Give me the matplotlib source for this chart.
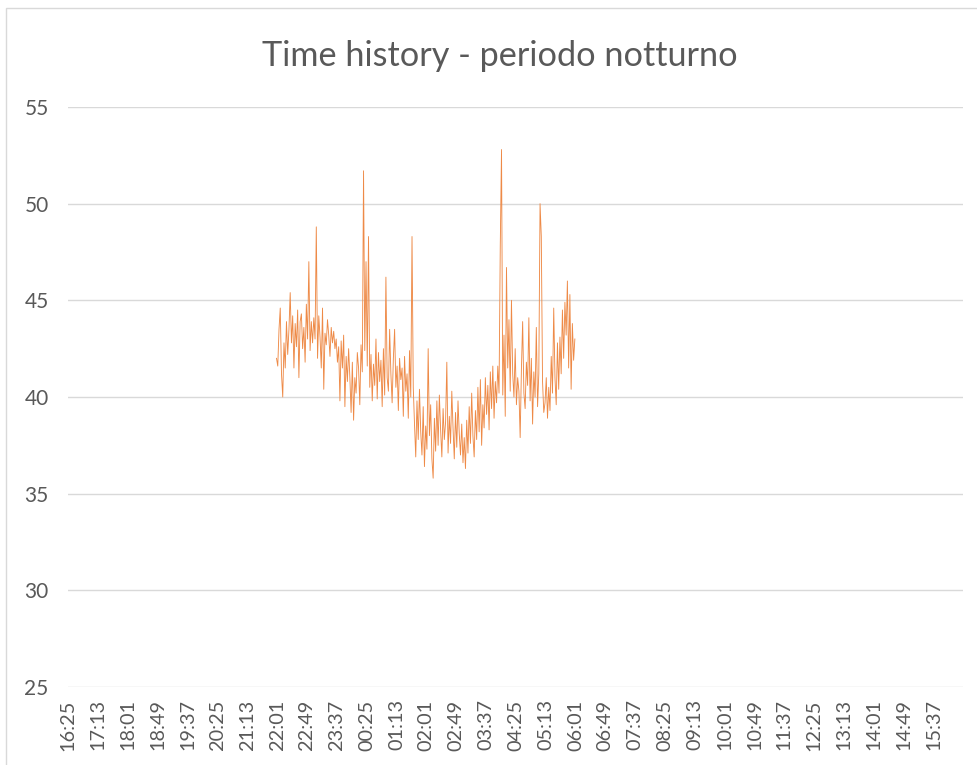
import matplotlib
matplotlib.use("Agg")
import matplotlib.pyplot as plt
from matplotlib.patches import Rectangle

plt.rcParams['font.family'] = ['Lato', 'DejaVu Sans']

title = "Time history - periodo notturno"

# category labels on the time axis (every 48 minutes starting 16:25)
tick_labels = ["16:25", "17:13", "18:01", "18:49", "19:37", "20:25", "21:13", "22:01",
               "22:49", "23:37", "00:25", "01:13", "02:01", "02:49", "03:37", "04:25",
               "05:13", "06:01", "06:49", "07:37", "08:25", "09:13", "10:01", "10:49",
               "11:37", "12:25", "13:13", "14:01", "14:49", "15:37"]
axis_start = "16:25"
n_categories = 1440          # one category per minute over 24 h
tick_every = 48

series_start = "22:00"
series_step_min = 2
levels = [
    42.0, 41.6, 43.5, 44.6, 41.2, 40.0, 42.8, 41.5, 43.9, 42.2,
    43.5, 45.4, 42.8, 44.2, 41.5, 43.8, 42.6, 44.5, 41.0, 43.9,
    44.3, 42.5, 43.6, 41.8, 44.8, 43.0, 47.0, 42.4, 43.9, 42.8,
    44.1, 43.0, 48.8, 42.0, 44.2, 43.1, 41.5, 44.6, 40.4, 43.3,
    42.7, 44.0, 43.2, 42.1, 43.6, 42.8, 43.4, 42.5, 43.0, 41.8,
    42.6, 39.8, 42.9, 41.5, 43.2, 39.5, 42.1, 40.8, 42.5, 41.0,
    39.2, 41.8, 38.8, 41.0, 40.2, 42.3, 41.5, 39.6, 42.7, 41.3,
    51.7, 42.4, 47.0, 41.6, 48.3, 40.5, 42.2, 39.8, 41.7, 40.6,
    43.0, 39.9, 42.3, 40.8, 41.9, 39.5, 42.5, 40.1, 46.2, 41.0,
    40.3, 43.5, 41.2, 39.7, 42.0, 43.5, 40.5, 41.6, 39.3, 42.0,
    40.9, 41.5, 39.0, 42.1, 40.3, 41.2, 38.9, 42.4, 40.0, 48.3,
    40.5, 38.6, 36.9, 39.8, 37.8, 40.4, 38.2, 37.0, 39.5, 36.4,
    38.5, 37.3, 42.5, 38.0, 39.6, 36.8, 35.8, 38.9, 37.2, 39.8,
    37.5, 40.1, 38.3, 36.9, 39.4, 37.8, 38.7, 41.8, 37.1, 39.0,
    37.6, 40.3, 38.4, 36.8, 39.2, 37.4, 39.8, 38.1, 37.0, 38.6,
    36.6, 37.9, 36.3, 38.8, 37.1, 39.5, 37.6, 40.2, 38.0, 36.9,
    39.3, 37.8, 40.5, 38.2, 40.9, 37.5, 39.6, 38.4, 41.0, 39.1,
    40.6, 38.3, 41.3, 39.4, 41.6, 38.9, 40.8, 39.7, 41.6, 40.2,
    47.8, 52.8, 40.1, 43.2, 39.0, 46.7, 41.5, 44.0, 40.3, 45.0,
    41.2, 40.0, 42.5, 39.6, 41.0, 40.3, 37.9, 41.4, 43.9, 40.2,
    39.4, 41.8, 40.6, 44.1, 39.8, 42.0, 38.6, 41.3, 40.0, 43.6,
    39.5, 41.2, 50.0, 48.3, 40.8, 39.2, 39.7, 41.0, 38.9, 40.5,
    39.3, 42.1, 40.2, 44.6, 41.0, 39.6, 42.8, 40.4, 43.1, 41.2,
    44.5, 42.0, 44.9, 43.2, 46.0, 41.5, 45.3, 40.4, 43.8, 41.9,
    43.0,
]
y_ticks = [25, 30, 35, 40, 45, 50, 55]


def to_min(s):
    h, m = s.split(":")
    return int(h) * 60 + int(m)


offset = (to_min(series_start) - to_min(axis_start)) % 1440
xs = [offset + i * series_step_min for i in range(len(levels))]

W, H = 978, 765
fig = plt.figure(figsize=(W / 100, H / 100), dpi=100)
ax = fig.add_axes([68 / W, 1 - 687 / H, (963 - 68) / W, (687 - 107) / H])

ax.plot(xs, levels, color="#EE8A47", lw=0.65)

ax.set_xlim(-0.5, n_categories - 0.5)
ax.set_ylim(y_ticks[0], y_ticks[-1])
ax.set_yticks(y_ticks)
ax.set_xticks(range(0, n_categories, tick_every)[:len(tick_labels)])
ax.set_xticklabels(tick_labels, rotation=90, fontsize=14.3, color="#595959")
ax.tick_params(axis="y", labelsize=15, labelcolor="#595959", length=0, pad=14)
ax.tick_params(axis="x", length=0, pad=9)
ax.grid(axis="y", color="#D9D9D9", lw=1.0)
ax.set_axisbelow(True)
for sp in ax.spines.values():
    sp.set_visible(False)

fig.text(500 / W, 1 - 56 / H, title, ha="center", va="center", fontsize=24.7, color="#595959")

# chart border
fig.patches.append(Rectangle((6 / W, -0.01), 1.2, 1 - 8.5 / H + 0.01, transform=fig.transFigure,
                             fill=False, edgecolor="#D9D9D9", lw=1.0))

fig.savefig("out.png", dpi=100, facecolor="white")
